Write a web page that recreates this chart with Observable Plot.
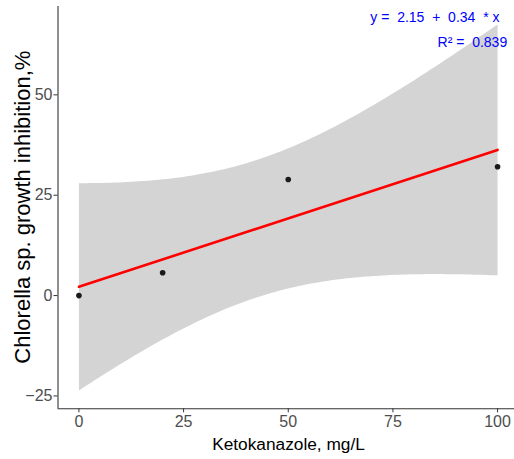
<!DOCTYPE html>
<html><head><meta charset="utf-8">
<script src="https://cdn.jsdelivr.net/npm/d3@7"></script>
<script src="https://cdn.jsdelivr.net/npm/@observablehq/plot@0.6"></script>
<style>
body{margin:0;background:#fff;}
svg text{white-space:pre;}
</style></head><body><div id="chart"></div>
<script>
const conc = [0, 20, 50, 100];
const inhibition = [0, 5.7, 28.9, 32.1];
const xTicks = [0, 25, 50, 75, 100];
const yTicks = [-25, 0, 25, 50];
const xLabel = "Ketokanazole, mg/L";
const yLabel = "Chlorella sp. growth inhibition,%";
const eqLabel = "y =  2.15  +  0.34  * x";
const r2Label = "R² =  0.839";

const data = conc.map((x, i) => ({x, y: inhibition[i]}));
const xDomain = [-5, 105], yDomain = [-28.2, 72];
const font = "'Liberation Sans', Arial, Helvetica, sans-serif";

const plot = Plot.plot({
  width: 514, height: 459,
  marginLeft: 57.5, marginTop: 6, marginBottom: 50.7, marginRight: 0,
  x: {domain: xDomain, range: [57.5, 518]},
  y: {domain: yDomain, range: [408.3, 6]},
  style: {fontFamily: font, background: "#fff"},
  marks: [
    Plot.linearRegressionY(data, {x: "x", y: "y", ci: 0.95, fill: "#d4d4d4", fillOpacity: 1, stroke: "red", strokeWidth: 2.6}),
    Plot.dot(data, {x: "x", y: "y", r: 2.8, fill: "#1a1a1a", stroke: null}),
    Plot.ruleX([xDomain[0]], {stroke: "#333", strokeWidth: 1.1}),
    Plot.ruleY([yDomain[0]], {stroke: "#333", strokeWidth: 1.1}),
    Plot.axisX({ticks: xTicks, tickSize: 4, tickPadding: 3, fontSize: 16, fill: "#4d4d4d", stroke: "#333", label: null}),
    Plot.axisY({ticks: yTicks, tickSize: 4, tickPadding: 1.5, fontSize: 16, fill: "#4d4d4d", stroke: "#333", label: null}),
    Plot.text([xLabel], {frameAnchor: "bottom", lineAnchor: "bottom", dx: 2.25, dy: 41, fontSize: 17.3, fill: "#000"}),
    Plot.text([yLabel], {frameAnchor: "left", textAnchor: "middle", rotate: -90, lineAnchor: "middle", dx: -35.5, dy: -0.5, fontSize: 22, fill: "#000"}),
    Plot.text([eqLabel], {frameAnchor: "top-right", textAnchor: "end", lineAnchor: "bottom", dx: -15, dy: 15.5, fontSize: 14, fill: "#0000ff"}),
    Plot.text([r2Label], {frameAnchor: "top-right", textAnchor: "end", lineAnchor: "bottom", dx: -7.3, dy: 40, fontSize: 14, fill: "#0000ff"})
  ]
});
document.getElementById("chart").appendChild(plot);
</script></body></html>
